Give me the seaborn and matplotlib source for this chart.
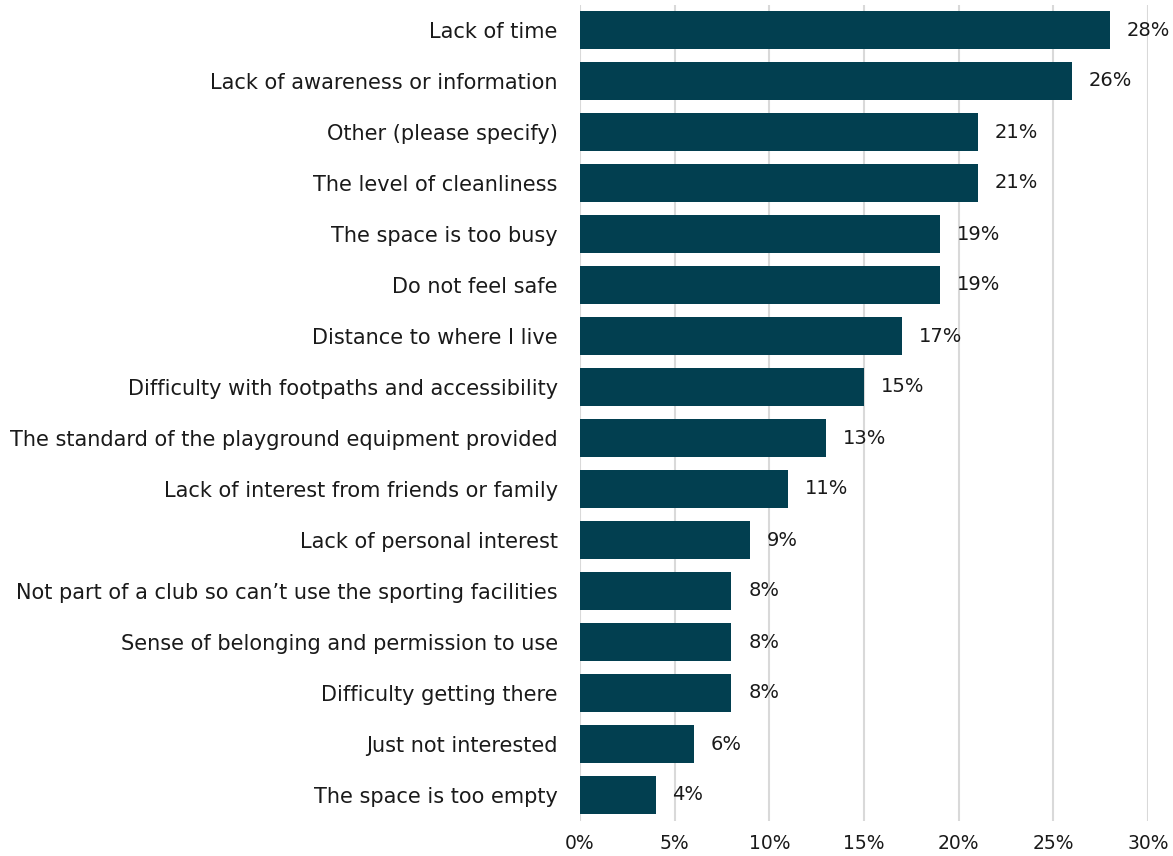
import matplotlib
matplotlib.use("Agg")
import matplotlib.pyplot as plt
import seaborn as sns
import pandas as pd

categories = [
    "Lack of time",
    "Lack of awareness or information",
    "Other (please specify)",
    "The level of cleanliness",
    "The space is too busy",
    "Do not feel safe",
    "Distance to where I live",
    "Difficulty with footpaths and accessibility",
    "The standard of the playground equipment provided",
    "Lack of interest from friends or family",
    "Lack of personal interest",
    "Not part of a club so can\u2019t use the sporting facilities",
    "Sense of belonging and permission to use",
    "Difficulty getting there",
    "Just not interested",
    "The space is too empty",
]
values = [28, 26, 21, 21, 19, 19, 17, 15, 13, 11, 9, 8, 8, 8, 6, 4]
x_ticks = [0, 5, 10, 15, 20, 25, 30]

df = pd.DataFrame({"reason": categories, "pct": values})

sns.set_theme(style="white")
plt.rcParams["font.family"] = ["DejaVu Sans"]

fig = plt.figure(figsize=(11.73, 8.56), dpi=100)
ax = fig.add_axes([580 / 1173, 1 - 820.5 / 856, (1148 - 580) / 1173, 816 / 856])

bar_color = "#023F50"
sns.barplot(data=df, x="pct", y="reason", color=bar_color, saturation=1,
            width=0.76, orient="h", ax=ax, zorder=3, linewidth=0)

ax.set_xlim(0, 30)
ax.set_ylim(len(categories) - 0.5, -0.5)
ax.set_xticks(x_ticks)
ax.set_xticklabels([f"{t}%" for t in x_ticks], fontsize=13.5, color="#1A1A1A")
ax.tick_params(axis="y", labelsize=15, colors="#1A1A1A", length=0, pad=16)
ax.tick_params(axis="x", length=0, pad=10)
ax.set_xlabel("")
ax.set_ylabel("")

ax.grid(axis="x", color="#D9D9D9", linewidth=1.5, zorder=0)
ax.grid(axis="y", visible=False)
for s in ax.spines.values():
    s.set_visible(False)

for container in ax.containers:
    ax.bar_label(container, labels=[f"{v}%" for v in values], padding=12,
                 fontsize=14, color="#1A1A1A")

fig.savefig("out.png", dpi=100)
